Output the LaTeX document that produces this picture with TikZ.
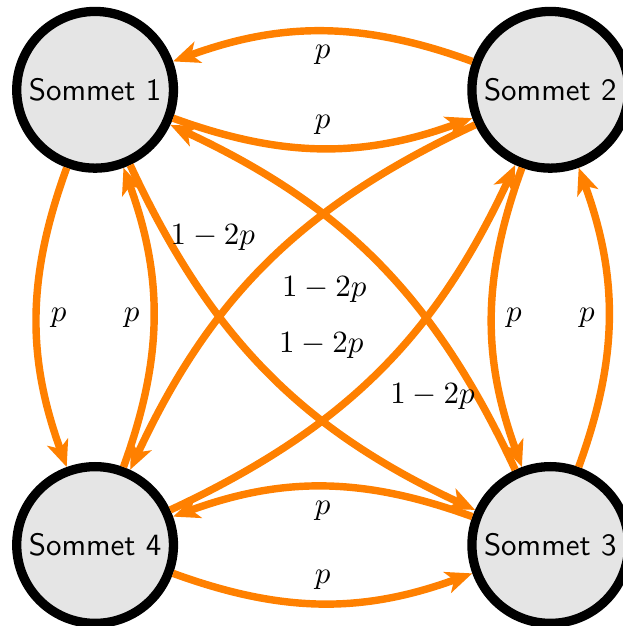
\documentclass[tikz,border=0pt]{standalone}
\usetikzlibrary{arrows.meta}

\begin{document}
\begin{tikzpicture}[
    state/.style={circle, draw, line width=3pt, fill=gray!20, minimum size=1.78cm, inner sep=0pt, font=\sffamily},
    trans/.style={-{Stealth[length=0.3cm, width=0.25cm, inset=0.08cm]}, draw=orange, line width=2.4pt, bend right=20}
]
\useasboundingbox (-1.08,1.02) rectangle (5.99,-6.09);

\node[state] (s1) at (0,0) {Sommet 1};
\node[state] (s2) at (5.17,0) {Sommet 2};
\node[state] (s3) at (5.17,-5.17) {Sommet 3};
\node[state] (s4) at (0,-5.17) {Sommet 4};

% bords du carre
\draw[trans] (s1) to node[auto] {$p$} (s2);
\draw[trans] (s2) to node[auto] {$p$} (s1);
\draw[trans] (s2) to node[auto] {$p$} (s3);
\draw[trans] (s3) to node[auto] {$p$} (s2);
\draw[trans] (s3) to node[auto] {$p$} (s4);
\draw[trans] (s4) to node[auto] {$p$} (s3);
\draw[trans] (s4) to node[auto] {$p$} (s1);
\draw[trans] (s1) to node[auto] {$p$} (s4);

% diagonales
\draw[trans] (s1) to node[auto, pos=0.2, xshift=-0.27cm, yshift=-0.06cm] {$1-2p$} (s3);
\draw[trans] (s3) to node[auto, pos=0.2, xshift=0.27cm, yshift=0.06cm] {$1-2p$} (s1);
\draw[trans] (s2) to node[auto] {$1-2p$} (s4);
\draw[trans] (s4) to node[auto] {$1-2p$} (s2);
\end{tikzpicture}
\end{document}
